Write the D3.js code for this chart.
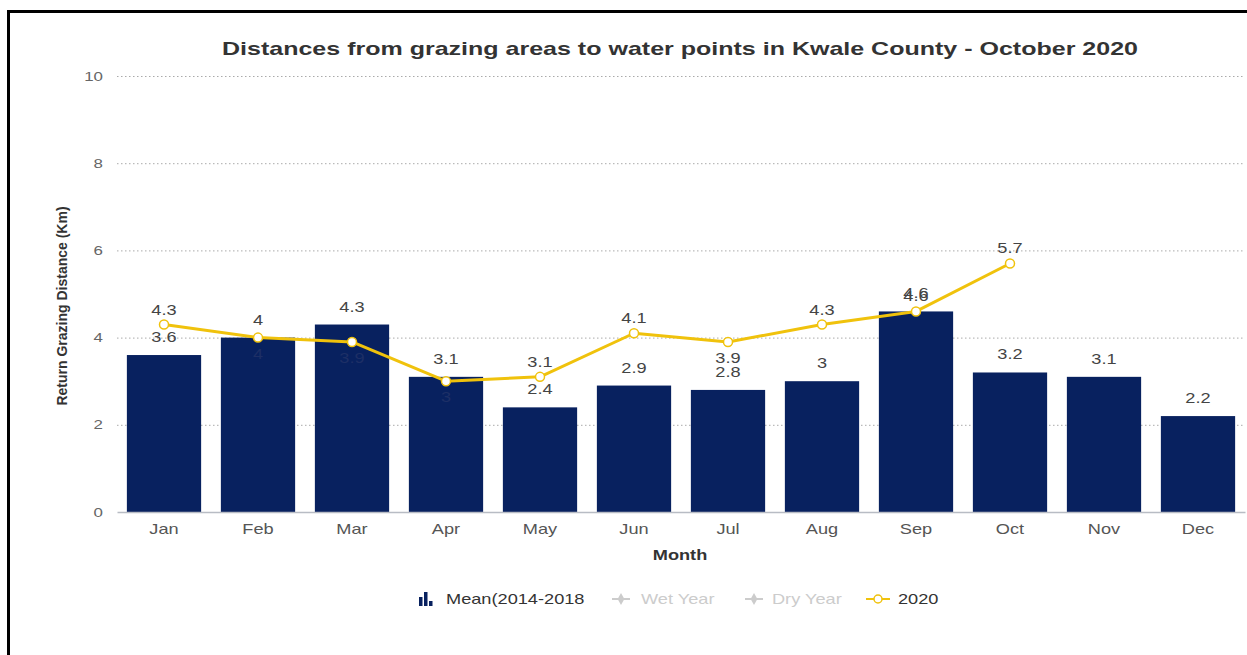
<!DOCTYPE html>
<html>
<head>
<meta charset="utf-8">
<script src="https://cdn.jsdelivr.net/npm/d3@7"></script>
<style>
  html, body { margin: 0; padding: 0; background: #fff; }
  svg { display: block; }
</style>
</head>
<body>
<svg id="chart" width="1247" height="655"></svg>
<script>
// Chart values
const months = ["Jan", "Feb", "Mar", "Apr", "May", "Jun", "Jul", "Aug", "Sep", "Oct", "Nov", "Dec"];
const meanValues = [3.6, 4.0, 4.3, 3.1, 2.4, 2.9, 2.8, 3.0, 4.6, 3.2, 3.1, 2.2];
const values2020 = [4.3, 4.0, 3.9, 3.0, 3.1, 4.1, 3.9, 4.3, 4.6, 5.7];
const yTicks = [0, 2, 4, 6, 8, 10];
const legendItems = ["Mean(2014-2018", "Wet Year", "Dry Year", "2020"];

// Where each 2020 label sits relative to its point
const lineLabelSide = ["above", "below", "below", "below", "above", "above", "below", "above", "above", "above"];

const W = 1247, H = 655;
const margin = { left: 117, right: 2, top: 76, bottom: 143 };
const barColor = "#08215f";
const lineColor = "#f0c20c";
const font = "Liberation Sans, Arial, sans-serif";
const WIDE = 1.3; // horizontal stretch applied to text

const svg = d3.select("#chart");

// Widen text horizontally about its own anchor point
function widen(sel, k = WIDE) {
  sel.each(function () {
    const t = d3.select(this);
    const x0 = +(t.attr("x") || 0);
    const prev = t.attr("transform") || "";
    t.attr("transform", `${prev} translate(${x0},0) scale(${k},1) translate(${-x0},0)`);
  });
}

// Frame
svg.append("path")
  .attr("d", `M8.5,${H + 5} L8.5,11.5 L${W + 5},11.5`)
  .attr("fill", "none").attr("stroke", "#000").attr("stroke-width", 3);

const x = d3.scaleBand().domain(months).range([margin.left, W - margin.right]).paddingInner(0.21).paddingOuter(0.105);
const y = d3.scaleLinear().domain([0, 10]).range([H - margin.bottom, margin.top]);

// Title
svg.append("text")
  .attr("x", 680).attr("y", 55)
  .attr("text-anchor", "middle")
  .attr("font-family", font)
  .attr("font-weight", "bold").attr("font-size", 19)
  .attr("fill", "#333")
  .attr("textLength", 916).attr("lengthAdjust", "spacingAndGlyphs")
  .text("Distances from grazing areas to water points in Kwale County - October 2020");

// Grid lines
const grid = svg.append("g");
grid.selectAll("line").data(yTicks.filter(d => d > 0)).join("line")
  .attr("x1", margin.left).attr("x2", W - margin.right)
  .attr("y1", d => y(d) + 0.5).attr("y2", d => y(d) + 0.5)
  .attr("stroke", "#aaa").attr("stroke-width", 1).attr("stroke-dasharray", "1.5,2.5");

// Y axis
const yAxis = svg.append("g")
  .attr("transform", `translate(${margin.left - 14},0)`)
  .call(d3.axisLeft(y).tickValues(yTicks).tickSize(0).tickPadding(0).tickFormat(d3.format("d")));
yAxis.select(".domain").remove();
yAxis.selectAll("text")
  .attr("font-family", font)
  .attr("font-size", 13).attr("fill", "#666")
  .call(widen);

// Y axis title
svg.append("text")
  .attr("transform", `translate(67,${(y(0) + y(10)) / 2 + 12}) rotate(-90)`)
  .attr("text-anchor", "middle")
  .attr("font-family", font)
  .attr("font-weight", "bold").attr("font-size", 14)
  .attr("fill", "#333")
  .text("Return Grazing Distance (Km)");

// Bars
svg.append("g").selectAll("rect").data(meanValues).join("rect")
  .attr("x", (d, i) => x(months[i]))
  .attr("width", x.bandwidth())
  .attr("y", d => y(d))
  .attr("height", d => y(0) - y(d))
  .attr("fill", barColor);

// X axis
const xAxis = svg.append("g")
  .attr("transform", `translate(0,${y(0)})`)
  .call(d3.axisBottom(x).tickSize(0).tickPadding(12));
xAxis.select(".domain").attr("stroke", "#b8bcc4").attr("stroke-width", 1.5);
xAxis.selectAll("text")
  .attr("font-family", font)
  .attr("font-size", 14).attr("fill", "#555")
  .call(widen);

// X axis title
svg.append("text")
  .attr("x", 680).attr("y", 560)
  .attr("text-anchor", "middle")
  .attr("font-family", font)
  .attr("font-weight", "bold").attr("font-size", 14)
  .attr("fill", "#333")
  .text("Month")
  .call(widen);

const fmt = d => d3.format(".1~f")(d);

// Bar value labels
svg.append("g").selectAll("text").data(meanValues).join("text")
  .attr("x", (d, i) => x(months[i]) + x.bandwidth() / 2)
  .attr("y", d => y(d) - 13)
  .attr("text-anchor", "middle")
  .attr("font-family", font).attr("font-size", 14)
  .attr("fill", "#444")
  .text(fmt)
  .call(widen);

// 2020 line
const cx = i => x(months[i]) + x.bandwidth() / 2;
const line = d3.line().x((d, i) => cx(i)).y(d => y(d));
svg.append("path")
  .datum(values2020)
  .attr("d", line)
  .attr("fill", "none")
  .attr("stroke", lineColor).attr("stroke-width", 3)
  .attr("stroke-linejoin", "round");

svg.append("g").selectAll("circle").data(values2020).join("circle")
  .attr("cx", (d, i) => cx(i)).attr("cy", d => y(d))
  .attr("r", 4.5)
  .attr("fill", "#fff").attr("stroke", lineColor).attr("stroke-width", 1.5);

// 2020 value labels; those falling on a bar blend into it
svg.append("g").selectAll("text").data(values2020).join("text")
  .attr("x", (d, i) => cx(i))
  .attr("y", (d, i) => lineLabelSide[i] === "above" ? y(d) - 10 : y(d) + 21)
  .attr("text-anchor", "middle")
  .attr("font-family", font).attr("font-size", 14)
  .attr("fill", (d, i) => {
    const ly = lineLabelSide[i] === "above" ? y(d) - 15 : y(d) + 16;
    return ly > y(meanValues[i]) ? "#1d2f66" : "#444";
  })
  .text(fmt)
  .call(widen);

// Legend
const legend = svg.append("g").attr("font-family", font).attr("font-size", 14);
const ly0 = 599;

// Column icon
const icon = legend.append("g").attr("transform", `translate(419,${ly0 + 7})`);
[[0, 9], [5, 14], [10, 5]].forEach(([dx, h]) => {
  icon.append("rect").attr("x", dx).attr("y", -h).attr("width", 3.5).attr("height", h).attr("fill", barColor);
});
legend.append("text").attr("x", 446).attr("y", ly0 + 5).attr("fill", "#333").text(legendItems[0]).call(widen);

// Hidden series
[[612, 641, legendItems[1]], [745, 772, legendItems[2]]].forEach(([ix, tx, label]) => {
  legend.append("line").attr("x1", ix).attr("x2", ix + 18).attr("y1", ly0).attr("y2", ly0)
    .attr("stroke", "#ccc").attr("stroke-width", 2);
  legend.append("path")
    .attr("d", d3.symbol(d3.symbolDiamond, 40)())
    .attr("transform", `translate(${ix + 9},${ly0})`)
    .attr("fill", "#ccc");
  legend.append("text").attr("x", tx).attr("y", ly0 + 5).attr("fill", "#ccc").text(label).call(widen);
});

// 2020 series
legend.append("line").attr("x1", 866).attr("x2", 890).attr("y1", ly0).attr("y2", ly0)
  .attr("stroke", lineColor).attr("stroke-width", 2);
legend.append("circle")
  .attr("cx", 878).attr("cy", ly0).attr("r", 4)
  .attr("fill", "#fff").attr("stroke", lineColor).attr("stroke-width", 1.5);
legend.append("text").attr("x", 898).attr("y", ly0 + 5).attr("fill", "#333").text(legendItems[3]).call(widen);
</script>
</body>
</html>
